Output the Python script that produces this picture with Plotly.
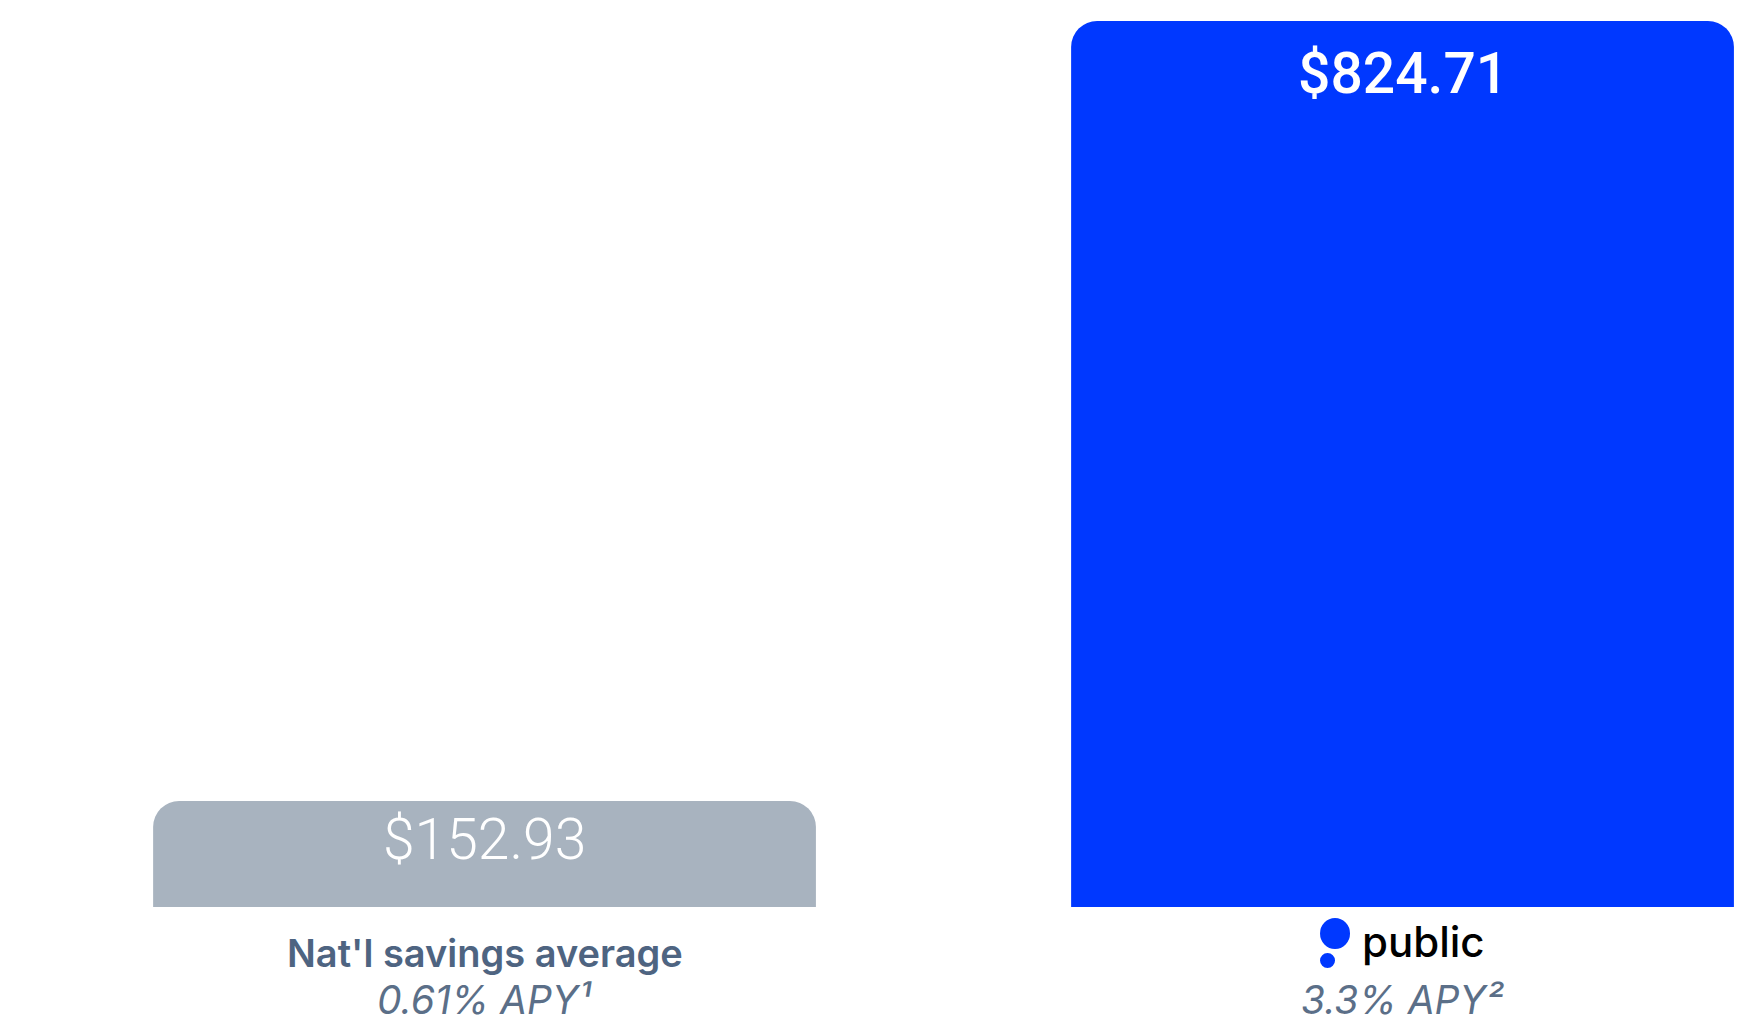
"""
Savings comparison: national average vs Public high-yield cash
"""
import plotly.graph_objects as go

# data
categories = ["Nat'l savings average", "public"]
balances = [152.93, 824.71]
value_labels = ["$152.93", "$824.71"]
apy_labels = ["0.61% APY¹", "3.3% APY²"]

# styles
BAR_COLORS = ['#A8B3BF', '#0038FF']
LABEL_COLOR = '#4E6481'
APY_COLOR = '#5B6F88'
VALUE_WEIGHTS = [300, 500]
VALUE_SHIFTS = [-38, -52]

fig = go.Figure(go.Bar(
    x=categories,
    y=balances,
    width=0.722,
    marker=dict(color=BAR_COLORS, line=dict(width=0)),
    hoverinfo='skip'
))

# value labels inside the top of each bar
for i, (cat, val) in enumerate(zip(categories, balances)):
    fig.add_annotation(
        x=cat, y=val, yanchor='middle', yshift=VALUE_SHIFTS[i],
        text=value_labels[i], showarrow=False,
        font=dict(family='Roboto', size=57, color='#ffffff', weight=VALUE_WEIGHTS[i])
    )

# category label under the grey bar
fig.add_annotation(
    x=categories[0], xref='x', y=0, yref='paper', yanchor='middle', yshift=-46,
    text=categories[0], showarrow=False,
    font=dict(family='Inter', size=38, color=LABEL_COLOR, weight=600)
)

# "public" wordmark under the blue bar
fig.add_annotation(
    x=categories[1], xref='x', y=0, yref='paper', yanchor='middle',
    xshift=21, yshift=-34,
    text=categories[1], showarrow=False,
    font=dict(family='Inter', size=42, color='#000000', weight=500)
)
# logo dots
fig.add_shape(
    type='circle', xref='x', yref='paper',
    xsizemode='pixel', ysizemode='pixel',
    xanchor=1, yanchor=0,
    x0=-82.5, x1=-52.5, y0=-42, y1=-11,
    fillcolor='#0038FF', line=dict(width=0)
)
fig.add_shape(
    type='circle', xref='x', yref='paper',
    xsizemode='pixel', ysizemode='pixel',
    xanchor=1, yanchor=0,
    x0=-82.5, x1=-67.5, y0=-61, y1=-46,
    fillcolor='#0038FF', line=dict(width=0)
)

# APY lines
for cat, apy in zip(categories, apy_labels):
    fig.add_annotation(
        x=cat, xref='x', y=0, yref='paper', yanchor='middle', yshift=-92,
        text=apy, showarrow=False,
        font=dict(family='Inter', size=39, color=APY_COLOR, style='italic', weight=400)
    )

fig.update_layout(
    width=1752,
    height=1035,
    margin=dict(l=0, r=0, t=0, b=128),
    plot_bgcolor='#ffffff',
    paper_bgcolor='#ffffff',
    showlegend=False,
    barcornerradius=26,
    xaxis=dict(
        range=[-0.5278, 1.3807],
        showgrid=False, zeroline=False, showticklabels=False, showline=False
    ),
    yaxis=dict(
        range=[61.64, 842.8],
        showgrid=False, zeroline=False, showticklabels=False, showline=False
    )
)

# drop the default page margin so the figure sits at the window's corner
fig.write_html(
    "out.html",
    config={'displayModeBar': False},
    post_script="document.body.style.margin = '0';"
)
